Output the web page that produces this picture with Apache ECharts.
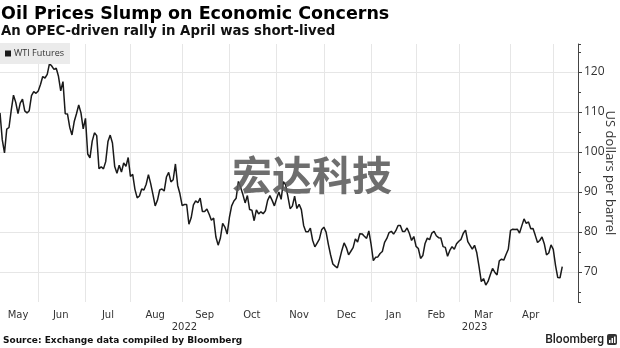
<!DOCTYPE html>
<html><head><meta charset="utf-8">
<script src="https://cdn.jsdelivr.net/npm/echarts@6/dist/echarts.min.js"></script>
<style>html,body{margin:0;padding:0;background:#fff}#c{width:620px;height:348px}</style>
</head><body><div id="c"></div>
<script>
// Trading days (NYMEX WTI front-month settlements), May 6 2022 - May 5 2023
const dates = [
'2022-05-06','2022-05-09','2022-05-10','2022-05-11','2022-05-12','2022-05-13','2022-05-16','2022-05-17','2022-05-18','2022-05-19','2022-05-20','2022-05-23','2022-05-24','2022-05-25','2022-05-26','2022-05-27','2022-05-31',
'2022-06-01','2022-06-02','2022-06-03','2022-06-06','2022-06-07','2022-06-08','2022-06-09','2022-06-10','2022-06-13','2022-06-14','2022-06-15','2022-06-16','2022-06-17','2022-06-21','2022-06-22','2022-06-23','2022-06-24','2022-06-27','2022-06-28','2022-06-29','2022-06-30',
'2022-07-01','2022-07-05','2022-07-06','2022-07-07','2022-07-08','2022-07-11','2022-07-12','2022-07-13','2022-07-14','2022-07-15','2022-07-18','2022-07-19','2022-07-20','2022-07-21','2022-07-22','2022-07-25','2022-07-26','2022-07-27','2022-07-28','2022-07-29',
'2022-08-01','2022-08-02','2022-08-03','2022-08-04','2022-08-05','2022-08-08','2022-08-09','2022-08-10','2022-08-11','2022-08-12','2022-08-15','2022-08-16','2022-08-17','2022-08-18','2022-08-19','2022-08-22','2022-08-23','2022-08-24','2022-08-25','2022-08-26','2022-08-29','2022-08-30','2022-08-31',
'2022-09-01','2022-09-02','2022-09-06','2022-09-07','2022-09-08','2022-09-09','2022-09-12','2022-09-13','2022-09-14','2022-09-15','2022-09-16','2022-09-19','2022-09-20','2022-09-21','2022-09-22','2022-09-23','2022-09-26','2022-09-27','2022-09-28','2022-09-29','2022-09-30',
'2022-10-03','2022-10-04','2022-10-05','2022-10-06','2022-10-07','2022-10-10','2022-10-11','2022-10-12','2022-10-13','2022-10-14','2022-10-17','2022-10-18','2022-10-19','2022-10-20','2022-10-21','2022-10-24','2022-10-25','2022-10-26','2022-10-27','2022-10-28','2022-10-31',
'2022-11-01','2022-11-02','2022-11-03','2022-11-04','2022-11-07','2022-11-08','2022-11-09','2022-11-10','2022-11-11','2022-11-14','2022-11-15','2022-11-16','2022-11-17','2022-11-18','2022-11-21','2022-11-22','2022-11-23','2022-11-25','2022-11-28','2022-11-29','2022-11-30',
'2022-12-01','2022-12-02','2022-12-05','2022-12-06','2022-12-07','2022-12-08','2022-12-09','2022-12-12','2022-12-13','2022-12-14','2022-12-15','2022-12-16','2022-12-19','2022-12-20','2022-12-21','2022-12-22','2022-12-23','2022-12-27','2022-12-28','2022-12-29','2022-12-30',
'2023-01-03','2023-01-04','2023-01-05','2023-01-06','2023-01-09','2023-01-10','2023-01-11','2023-01-12','2023-01-13','2023-01-17','2023-01-18','2023-01-19','2023-01-20','2023-01-23','2023-01-24','2023-01-25','2023-01-26','2023-01-27','2023-01-30','2023-01-31',
'2023-02-01','2023-02-02','2023-02-03','2023-02-06','2023-02-07','2023-02-08','2023-02-09','2023-02-10','2023-02-13','2023-02-14','2023-02-15','2023-02-16','2023-02-17','2023-02-21','2023-02-22','2023-02-23','2023-02-24','2023-02-27','2023-02-28',
'2023-03-01','2023-03-02','2023-03-03','2023-03-06','2023-03-07','2023-03-08','2023-03-09','2023-03-10','2023-03-13','2023-03-14','2023-03-15','2023-03-16','2023-03-17','2023-03-20','2023-03-21','2023-03-22','2023-03-23','2023-03-24','2023-03-27','2023-03-28','2023-03-29','2023-03-30','2023-03-31',
'2023-04-03','2023-04-04','2023-04-05','2023-04-06','2023-04-10','2023-04-11','2023-04-12','2023-04-13','2023-04-14','2023-04-17','2023-04-18','2023-04-19','2023-04-20','2023-04-21','2023-04-24','2023-04-25','2023-04-26','2023-04-27','2023-04-28',
'2023-05-01','2023-05-02','2023-05-03','2023-05-04','2023-05-05'
];
const prices = [
109.77,103.09,99.76,105.71,106.13,110.49,114.20,112.40,109.59,112.21,113.23,110.29,109.77,110.33,114.09,115.07,114.67,
115.26,116.87,118.87,118.50,119.41,122.11,121.51,120.67,120.93,118.93,115.31,117.59,109.56,109.52,106.19,104.27,107.62,109.57,111.76,109.78,105.76,
108.43,99.50,98.53,102.73,104.79,104.09,95.84,96.30,95.78,97.59,102.60,104.22,102.26,96.35,94.70,96.70,94.98,97.26,96.42,98.62,
93.89,94.42,90.66,88.54,89.01,90.76,90.50,91.93,94.34,92.09,89.41,86.53,87.92,90.50,90.77,90.23,93.74,94.89,92.52,93.06,97.01,91.64,89.55,
86.61,86.87,86.88,81.94,83.54,86.79,87.78,87.31,88.48,85.10,85.11,85.73,84.45,82.94,83.49,78.74,76.71,78.50,82.15,81.23,79.49,
83.63,86.52,87.76,88.45,92.64,91.13,89.35,87.27,89.11,85.61,85.46,82.82,85.55,84.51,85.05,84.58,85.32,87.91,89.08,87.90,86.53,
88.37,90.00,88.17,92.61,91.79,88.91,85.83,86.47,88.96,85.87,86.92,85.59,81.64,80.08,80.04,80.95,77.94,76.28,77.24,78.20,80.55,
81.22,79.98,76.93,74.25,72.01,71.46,71.02,73.17,75.39,77.28,76.11,74.29,75.19,76.09,78.29,77.49,79.56,79.53,78.96,78.40,80.26,
76.93,72.84,73.67,73.77,74.63,75.12,77.41,78.39,79.86,80.18,79.48,80.33,81.64,81.62,80.13,80.15,81.01,79.68,77.90,78.87,
76.41,75.88,73.39,74.11,77.14,78.47,78.06,79.72,80.14,79.06,78.59,78.49,76.34,76.16,73.95,75.39,76.32,75.68,77.05,
77.69,78.16,79.68,80.46,77.58,76.66,75.72,76.68,74.80,71.33,67.61,68.35,66.74,67.64,69.33,70.90,69.96,69.26,72.81,73.20,72.97,74.37,75.67,
80.42,80.71,80.61,80.70,79.74,81.53,83.26,82.16,82.52,80.83,80.86,79.16,77.37,77.87,78.76,77.07,74.30,74.76,76.78,
75.66,71.66,68.60,68.56,71.34
];
const monthNames = ['Jan','Feb','Mar','Apr','May','Jun','Jul','Aug','Sep','Oct','Nov','Dec'];
const seriesName = 'WTI Futures';
const padDays = 7; // empty trading-day slots after the last point

const cats = dates.concat(new Array(padDays).fill(''));
const total = cats.length;

// month boundaries
const monthStartIdx = [];
const gridIdx = new Set();
dates.forEach((d, i) => {
  if (i === 0 || d.slice(0, 7) !== dates[i - 1].slice(0, 7)) {
    monthStartIdx.push(i);
    if (i > 0) gridIdx.add(i);
  }
});
const monthLabelAt = {};
for (let k = 0; k < monthStartIdx.length - 1; k++) {
  const s = monthStartIdx[k], e = monthStartIdx[k + 1];
  monthLabelAt[Math.floor((s + e) / 2)] = monthNames[+dates[s].slice(5, 7) - 1];
}
// year labels
const yearStartIdx = [];
dates.forEach((d, i) => {
  if (i === 0 || d.slice(0, 4) !== dates[i - 1].slice(0, 4)) yearStartIdx.push(i);
});
const yearLabelAt = {};
yearStartIdx.forEach((s, k) => {
  const e = k + 1 < yearStartIdx.length ? yearStartIdx[k + 1] : total - 1;
  yearLabelAt[Math.floor((s + e) / 2)] = dates[s].slice(0, 4);
});

const chart = echarts.init(document.getElementById('c'), null, {renderer: 'canvas'});
const gridColor = '#e6e6e6';
const axisColor = '#444';
chart.setOption({
  animation: false,
  backgroundColor: '#fff',
  title: [
    {text: 'Oil Prices Slump on Economic Concerns', left: 1, top: 5, padding: 0,
     textStyle: {fontFamily: 'DejaVu Sans', fontWeight: 'bold', fontSize: 17.5, color: '#000'}},
    {text: 'An OPEC-driven rally in April was short-lived', left: 1, top: 25, padding: 0,
     textStyle: {fontFamily: 'DejaVu Sans', fontWeight: 'bold', fontSize: 13.3, color: '#111'}}
  ],
  legend: {
    data: [seriesName], left: 0, top: 43, icon: 'rect', itemWidth: 6, itemHeight: 6,
    itemGap: 4, padding: [6, 6, 6, 5], backgroundColor: '#ebebeb', borderRadius: 0,
    textStyle: {fontFamily: 'Open Sans', fontSize: 9, color: '#333', padding: [0, 0, 0, -2]}
  },
  grid: {left: 0, right: 42, top: 44, bottom: 46, containLabel: false, outerBoundsMode: 'none'},
  xAxis: [
    {
      type: 'category', data: cats, boundaryGap: false,
      axisLine: {show: false}, axisTick: {show: false},
      axisLabel: {
        interval: (i) => monthLabelAt[i] !== undefined,
        formatter: (v, i) => monthLabelAt[i] || '',
        fontFamily: 'DejaVu Sans', fontSize: 10, color: '#333', margin: 8
      },
      splitLine: {show: true, interval: (i) => gridIdx.has(i), lineStyle: {color: gridColor, width: 1}}
    },
    {
      type: 'category', data: cats, boundaryGap: false, position: 'bottom', offset: 12,
      axisLine: {show: false}, axisTick: {show: false}, splitLine: {show: false},
      axisLabel: {
        interval: (i) => yearLabelAt[i] !== undefined,
        formatter: (v, i) => yearLabelAt[i] || '',
        fontFamily: 'DejaVu Sans', fontSize: 10, color: '#333', margin: 8
      }
    }
  ],
  yAxis: [
    {
      type: 'value', position: 'right', min: 62.5, max: 127, splitNumber: 5, scale: true,
      axisLine: {show: true, lineStyle: {color: axisColor, width: 1}},
      axisTick: {show: true, length: 4, lineStyle: {color: axisColor}},
      axisLabel: {showMinLabel: false, showMaxLabel: false, fontFamily: 'Open Sans', fontSize: 12, color: '#333', margin: 6},
      splitLine: {show: true, showMinLine: false, showMaxLine: false, lineStyle: {color: gridColor, width: 1}},
      name: 'US dollars per barrel', nameLocation: 'middle', nameRotate: -90, nameGap: 25,
      nameMoveOverlap: false,
      nameTextStyle: {fontFamily: 'Open Sans', fontSize: 13, color: '#333'}
    },
    {
      type: 'value', position: 'right', min: 62.5, max: 127, splitNumber: 13, scale: true,
      axisLine: {show: false},
      axisTick: {show: true, length: 3, lineStyle: {color: axisColor}},
      axisLabel: {show: false}, splitLine: {show: false}
    }
  ],
  series: [{
    name: seriesName, type: 'line', xAxisIndex: 0, yAxisIndex: 0,
    data: prices, showSymbol: false, symbol: 'none',
    lineStyle: {color: '#1a1a1a', width: 1.5}, itemStyle: {color: '#1a1a1a'}, z: 3
  }],
  graphic: [
    {type: 'text', x: 312, y: 175, z: 100,
     style: {text: '宏达科技', fill: 'rgba(90,90,90,0.88)', font: 'bold 40px "Noto Sans CJK SC"', textAlign: 'center', textVerticalAlign: 'middle'}},
    {type: 'text', x: 3, y: 341,
     style: {text: 'Source: Exchange data compiled by Bloomberg', fill: '#111', font: 'bold 9px "DejaVu Sans"', textAlign: 'left', textVerticalAlign: 'middle'}},
    {type: 'text', x: 604, y: 340,
     style: {text: 'Bloomberg', fill: '#222', font: '500 12px Roboto', textAlign: 'right', textVerticalAlign: 'middle'}},
    {type: 'rect', shape: {x: 607, y: 334, width: 10, height: 11, r: 2}, style: {fill: '#333'}},
    {type: 'rect', shape: {x: 609, y: 340, width: 1.5, height: 3}, style: {fill: '#fff'}},
    {type: 'rect', shape: {x: 611.5, y: 338, width: 1.5, height: 5}, style: {fill: '#fff'}},
    {type: 'rect', shape: {x: 614, y: 336.5, width: 1.5, height: 6.5}, style: {fill: '#fff'}}
  ]
});
</script></body></html>
